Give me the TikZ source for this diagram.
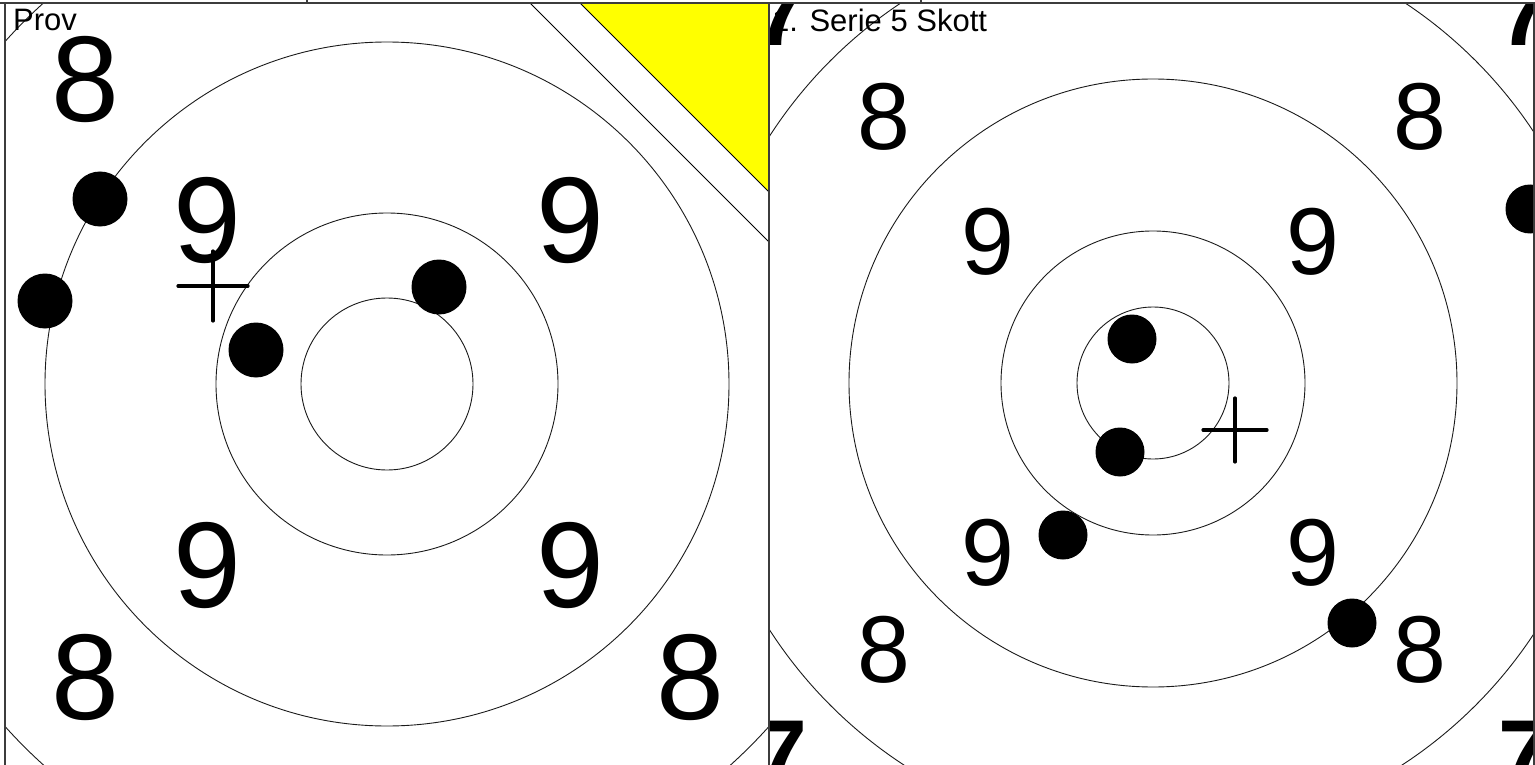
\documentclass[tikz,border=0pt]{standalone}
\usepackage{fontspec}
\setmainfont{Liberation Sans}
\usetikzlibrary{positioning}
\definecolor{deadfill}{HTML}{FFFF00}
\definecolor{panelline}{HTML}{3C3C3C}
\definecolor{ringcol}{HTML}{1A1A1A}
\tikzset{
  ringline/.style  = {draw=ringcol, line width=0.9pt},
  panelframe/.style= {draw=panelline, line width=1.8pt},
  shotdot/.style   = {circle, fill=black, inner sep=0pt},
  aimcross/.style  = {draw=black, line width=3.2pt, line cap=round},
  bignum/.style    = {font=\fontsize{122}{122}\selectfont, inner sep=0pt},
  midnum/.style    = {font=\fontsize{95}{95}\selectfont, inner sep=0pt},
  cornernum/.style = {font=\fontsize{95}{95}\selectfont\bfseries, inner sep=0pt},
  titletxt/.style  = {font=\fontsize{31}{31}\selectfont, inner sep=0pt, anchor=north west},
}

\begin{document}
\begin{tikzpicture}[x=1pt, y=-1pt]
    \useasboundingbox (0,0) rectangle (1535,765);

    % left target: sighting shots
    \begin{scope}
        \clip (5,3) rectangle (769,770);
        \coordinate (lc) at (387,384);
        \draw[ringline] (lc) circle[radius=86pt];
        \draw[ringline] (lc) circle[radius=171pt];
        \draw[ringline] (lc) circle[radius=342pt];
        \draw[ringline] (lc) circle[radius=513pt];
        \node[bignum] (l8a) at (85,80)   {8};
        \node[bignum] (l8b) at (85,677)  {8};
        \node[bignum] (l8c) at (690,677) {8};
        \node[bignum] (l9a) at (207,221) {9};
        \node[bignum] (l9b) at (570,221) {9};
        \node[bignum] (l9c) at (207,565) {9};
        \node[bignum] (l9d) at (570,565) {9};
        \node[shotdot, minimum size=55pt] (ls1) at (100,199) {};
        \node[shotdot, minimum size=55pt] (ls2) at (45,301)  {};
        \node[shotdot, minimum size=55pt] (ls3) at (256,350) {};
        \node[shotdot, minimum size=55pt] (ls4) at (439,287) {};
        \coordinate (lx) at (213,286);
        \draw[aimcross] (lx) ++(-35,0) -- ++(70,0) (lx) ++(0,-35) -- ++(0,70);
        % corner flag
        \fill[white, draw=black, line width=0.9pt] (530,3) -- (769,242) -- (769,3) -- cycle;
        \fill[deadfill, draw=black, line width=0.9pt] (580,3) -- (769,192) -- (769,3) -- cycle;
        \node[titletxt] (prov) at (13,9) {Prov};
    \end{scope}

    % right target: first series
    \begin{scope}
        \clip (769,3) rectangle (1534,770);
        \coordinate (rc) at (1153,383);
        \draw[ringline] (rc) circle[radius=76pt];
        \draw[ringline] (rc) circle[radius=152pt];
        \draw[ringline] (rc) circle[radius=304pt];
        \draw[ringline] (rc) circle[radius=456pt];
        \node[midnum] (r8a) at (884,117)  {8};
        \node[midnum] (r8b) at (1420,117) {8};
        \node[midnum] (r8c) at (884,650)  {8};
        \node[midnum] (r8d) at (1420,650) {8};
        \node[midnum] (r9a) at (988,242)  {9};
        \node[midnum] (r9b) at (1313,242) {9};
        \node[midnum] (r9c) at (988,553)  {9};
        \node[midnum] (r9d) at (1313,553) {9};
        \node[titletxt] (serie) at (772,9) {1. Serie 5 Skott};
        \node[cornernum] (r7a) at (781,13)   {7};
        \node[cornernum] (r7b) at (1525,13)  {7};
        \node[cornernum] (r7c) at (781,754)  {7};
        \node[cornernum] (r7d) at (1525,754) {7};
        \node[shotdot, minimum size=49pt] (rs1) at (1132,339) {};
        \node[shotdot, minimum size=49pt] (rs2) at (1120,452) {};
        \node[shotdot, minimum size=49pt] (rs3) at (1063,535) {};
        \node[shotdot, minimum size=49pt] (rs4) at (1352,623) {};
        \node[shotdot, minimum size=49pt] (rs5) at (1530,209) {};
        \coordinate (rx) at (1235,430);
        \draw[aimcross] (rx) ++(-32,0) -- ++(64,0) (rx) ++(0,-32) -- ++(0,64);
    \end{scope}

    % frames
    \draw[panelframe] (0,3) -- (1535,3);
    \draw[panelframe] (5,3) -- (5,765);
    \draw[panelframe] (769,3) -- (769,765);
    \draw[panelframe] (1534,3) -- (1534,765);
    \draw[panelframe] (307,0) -- (307,3);
    \draw[panelframe] (921,0) -- (921,3);
\end{tikzpicture}
\end{document}
